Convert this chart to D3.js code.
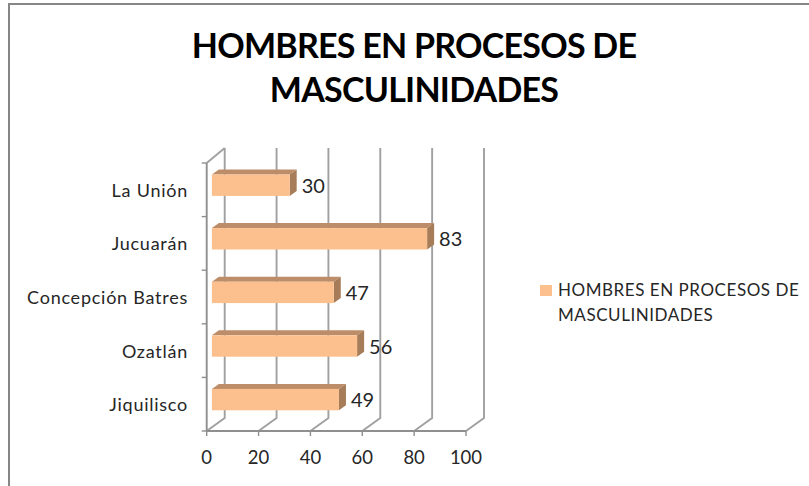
<!DOCTYPE html>
<html><head><meta charset="utf-8">
<script src="https://cdn.jsdelivr.net/npm/d3@7/dist/d3.min.js"></script>
<style>html,body{margin:0;padding:0;background:#fff}svg{display:block}text{font-family:Lato,"Open Sans",sans-serif}</style>
</head><body><div id="c"></div>
<script>
const categories = ["La Unión","Jucuarán","Concepción Batres","Ozatlán","Jiquilisco"];
const values = [30,83,47,56,49];
const xTicks = [0,20,40,60,80,100];
const titleLines = ["HOMBRES EN PROCESOS DE","MASCULINIDADES"];
const legendLines = ["HOMBRES EN PROCESOS DE","MASCULINIDADES"];

const W=809,H=486, grid="#a0a0a0", axisC="#8f8f8f", txt="#262626";
const svg=d3.select("#c").append("svg").attr("width",W).attr("height",H);
svg.append("path").attr("d",`M9,${H}V4H${W}`).attr("fill","none").attr("stroke","#868686").attr("stroke-width",2);

svg.append("g").selectAll("text").data(titleLines).join("text")
  .attr("x",414).attr("y",(d,i)=>58+i*44).attr("text-anchor","middle")
  .attr("font-size",34).attr("font-weight",700).attr("letter-spacing",-0.75).attr("fill","#000").text(d=>d);

const x=d3.scaleLinear().domain([0,100]).range([206.7,466]);
const y=d3.scaleBand().domain(categories).range([163,431]);
const depthX=18, depthY=13;

// walls and gridlines
const g=svg.append("g").attr("fill","none").attr("stroke",grid).attr("stroke-width",1.9);
g.selectAll("path.g").data(xTicks).join("path").attr("class","g")
  .attr("d",d=>`M${x(d)},${y.range()[1]}l${depthX},${-depthY}V${y.range()[0]-depthY-2}`);
g.append("path").attr("d",`M${x(0)},${y.range()[0]}l${depthX},${-depthY-2}`);
// axis lines
g.append("path").attr("d",`M${x(0)},${y.range()[0]}V${y.range()[1]}H${x(100)}`).attr("stroke",axisC);
const yEdges=categories.map(c=>y(c)).concat(y.range()[1]);
g.selectAll("path.yt").data(yEdges).join("path").attr("class","yt").attr("stroke",axisC).attr("stroke-width",1.4)
  .attr("d",d=>`M${x(0)-5},${d}H${x(0)}`);
g.selectAll("path.xt").data(xTicks).join("path").attr("class","xt").attr("stroke",axisC).attr("stroke-width",1.4)
  .attr("d",d=>`M${x(d)},${y.range()[1]}v5`);

svg.append("g").selectAll("text").data(xTicks).join("text")
  .attr("x",d=>x(d)).attr("y",464).attr("text-anchor","middle")
  .attr("font-size",18.5).attr("fill",txt).text(d=>d);
svg.append("g").selectAll("text").data(categories).join("text")
  .attr("x",188).attr("y",d=>y(d)+y.bandwidth()/2+7).attr("text-anchor","end")
  .attr("font-size",18).attr("letter-spacing",0.75).attr("fill",txt).text(d=>d);

// bars
const barH=21.4, ox=5.2, oy=-4.6, dx=7, dy=5;
const bars=svg.append("g").selectAll("g").data(categories).join("g")
  .attr("transform",d=>`translate(${x(0)+ox},${y(d)+y.bandwidth()/2-barH/2+oy})`);
const len=(i)=>x(values[i])-x(0);
bars.append("path").attr("fill","#bc8d68")
  .attr("d",(d,i)=>`M0,0l${dx},${-dy}h${len(i)}l${-dx},${dy}Z`);
bars.append("path").attr("fill","#a67c59")
  .attr("d",(d,i)=>`M${len(i)},0l${dx},${-dy}v${barH}l${-dx},${dy}Z`);
bars.append("rect").attr("width",(d,i)=>len(i)).attr("height",barH).attr("fill","#fcc08e");
bars.append("text").attr("x",(d,i)=>len(i)+12).attr("y",barH/2+7.5)
  .attr("font-size",20).attr("fill",txt).text((d,i)=>values[i]);

// legend
svg.append("rect").attr("x",540).attr("y",285).attr("width",12).attr("height",11).attr("fill","#fcc08e");
svg.append("g").selectAll("text").data(legendLines).join("text")
  .attr("x",558).attr("y",(d,i)=>296+i*25).attr("font-size",17).attr("letter-spacing",0.55).attr("fill",txt).text(d=>d);
</script></body></html>
